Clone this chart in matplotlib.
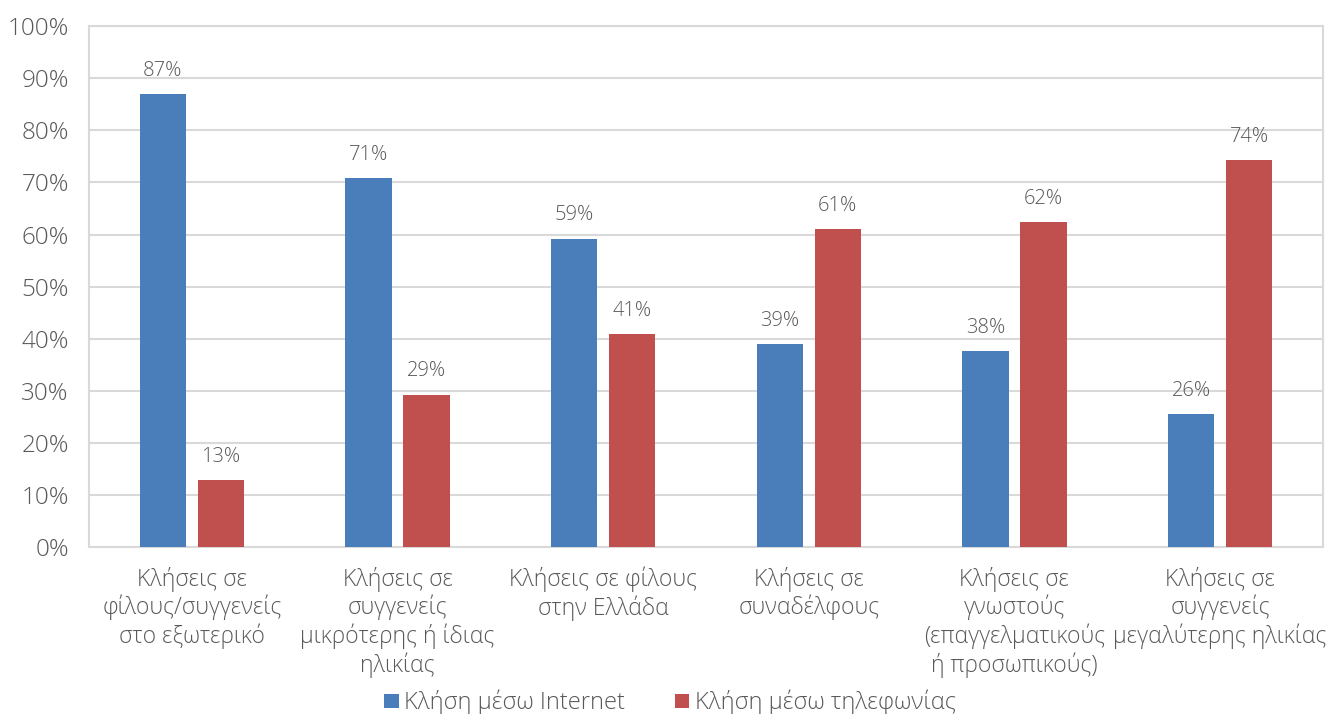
import matplotlib
matplotlib.use("Agg")
import matplotlib.pyplot as plt
from matplotlib.patches import Patch
import numpy as np

categories = [
    "Κλήσεις σε\nφίλους/συγγενείς\nστο εξωτερικό",
    "Κλήσεις σε\nσυγγενείς\nμικρότερης ή ίδιας\nηλικίας",
    "Κλήσεις σε φίλους\nστην Ελλάδα",
    "Κλήσεις σε\nσυναδέλφους",
    "Κλήσεις σε\nγνωστούς\n(επαγγελματικούς\nή προσωπικούς)",
    "Κλήσεις σε\nσυγγενείς\nμεγαλύτερης ηλικίας",
]
internet = [86.9, 70.8, 59.2, 38.9, 37.6, 25.6]
telephony = [12.9, 29.3, 40.9, 61.0, 62.4, 74.3]
series_names = ["Κλήση μέσω Internet", "Κλήση μέσω τηλεφωνίας"]
yticks = list(range(0, 101, 10))

plt.rcParams["font.family"] = ["Open Sans", "DejaVu Sans"]
text_color = "#595959"
grid_color = "#d9d9d9"
blue = "#4a7ebb"
red = "#c0504d"

fig = plt.figure(figsize=(13.35, 7.14), dpi=100)
ax = fig.add_axes([0.0667, 0.2335, 0.9243, 0.7301])

x = np.arange(len(categories))
width = 0.224
offset = 0.141
b1 = ax.bar(x - offset, internet, width, color=blue, zorder=3)
b2 = ax.bar(x + offset, telephony, width, color=red, zorder=3)

for bars, vals in ((b1, internet), (b2, telephony)):
    for rect, v in zip(bars, vals):
        ax.annotate(f"{round(v)}%", (rect.get_x() + rect.get_width() / 2, v),
                    xytext=(0, 9.5), textcoords="offset points",
                    ha="center", va="bottom", fontsize=14.5, color=text_color,
                    fontweight="light")

ax.set_xlim(-0.5, len(categories) - 0.5)
ax.set_ylim(0, 100)
ax.set_yticks(yticks)
ax.set_yticklabels([f"{t}%" for t in yticks])
ax.yaxis.grid(True, color=grid_color, linewidth=1.5, zorder=0)
ax.set_axisbelow(True)
ax.tick_params(axis="y", length=0, pad=14.5, labelsize=17.5, labelcolor=text_color)
ax.set_xticks(x)
ax.set_xticklabels(categories, fontsize=16.5, color=text_color, linespacing=1.16)
ax.tick_params(axis="x", length=0, pad=14)
for lbl in ax.get_xticklabels() + ax.get_yticklabels():
    lbl.set_fontweight("light")

for side in ("left", "right", "bottom", "top"):
    ax.spines[side].set_color(grid_color)
    ax.spines[side].set_linewidth(1.5)

handles = [Patch(facecolor=blue), Patch(facecolor=red)]
leg = fig.legend(handles, series_names, loc="center", bbox_to_anchor=(0.502, 0.016),
                 ncol=2, frameon=False, fontsize=17, handlelength=0.6,
                 handleheight=0.6, handletextpad=0.25, columnspacing=2.1)
for t in leg.get_texts():
    t.set_color(text_color)
    t.set_fontweight("light")

fig.savefig("out.png", dpi=100)
